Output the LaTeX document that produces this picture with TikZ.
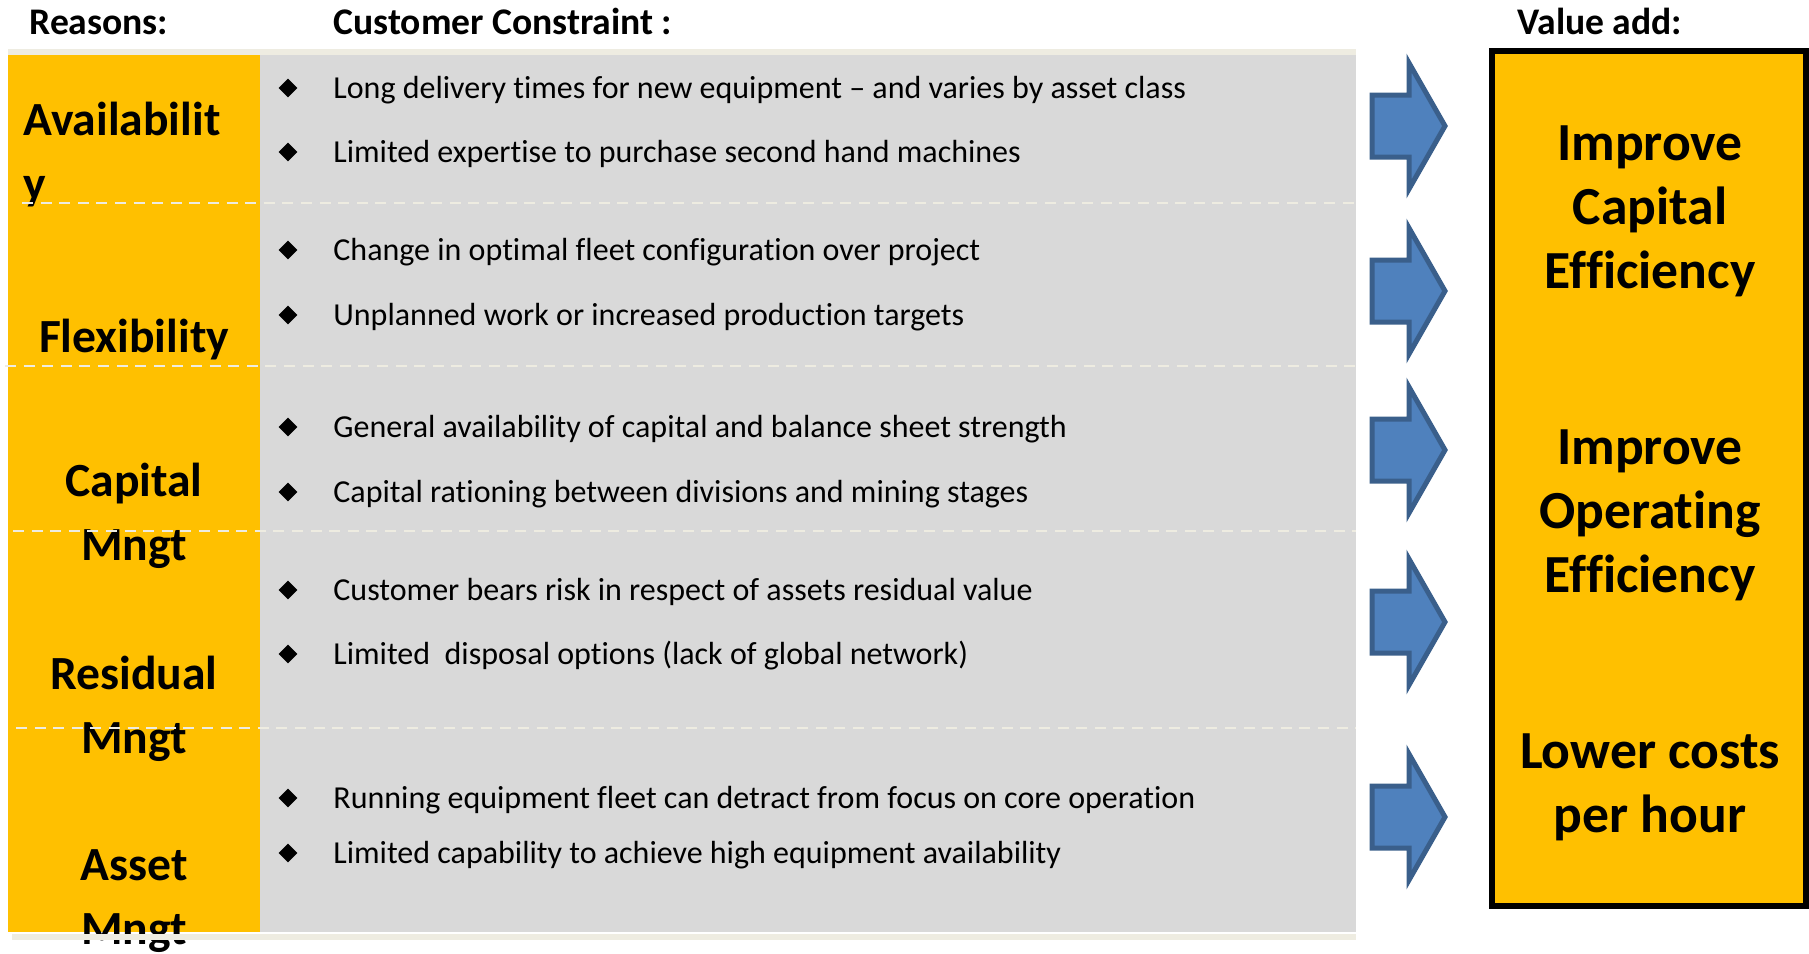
\documentclass[tikz,border=0pt]{standalone}
\usepackage{fontspec}
\setmainfont{Carlito}[Ligatures=CommonOff]
\usepackage{xcolor}
\usepackage{tikz}
\usetikzlibrary{shapes.geometric}

\definecolor{amber}{HTML}{FFC000}
\definecolor{panelgrey}{HTML}{D9D9D9}
\definecolor{rulebeige}{HTML}{EEECE1}
\definecolor{arrowfill}{HTML}{4F81BD}
\definecolor{arrowline}{HTML}{3A5F8B}

\begin{document}
\begin{tikzpicture}[x=0.5pt,y=-0.5pt,
        header/.style={anchor=base west,inner sep=0pt,font=\bfseries\fontsize{18.8}{22}\selectfont},
        bullet/.style={diamond,fill=black,inner sep=0pt,minimum size=9.5pt},
        item/.style={anchor=base west,inner sep=0pt,font=\fontsize{16}{19}\selectfont},
        reason/.style={anchor=base,inner sep=0pt,align=center,font=\bfseries\fontsize{23.8}{31.75}\selectfont},
        gain/.style={anchor=base,inner sep=0pt,align=center,font=\bfseries\fontsize{26.8}{32}\selectfont},
        divider/.style={rulebeige,line width=1.35pt,dash pattern=on 5.5pt off 3.8pt},
        blockarrow/.style={fill=arrowfill,draw=arrowline,line width=2.5pt,line join=miter}]
        \useasboundingbox (0,0) rectangle (1809,953);

        %% Panels
        \fill [amber] (8,55) rectangle (260,932);
        \fill [panelgrey] (260,55) rectangle (1356,932);
        \draw [fill=amber,line width=3pt] (1492,51) rectangle (1806,906);

        %% Headings
        \node [header] (reasons) at (29,34) {Reasons:};
        \node [header] (constraint) at (333,34) {Customer Constraint :};
        \node [header] (valueadd) at (1517,34) {Value add:};

        %% Constraints
        \foreach \y/\txt [count=\i] in {
                98/{Long delivery times for new equipment – and varies by asset class},
                162/{Limited expertise to purchase second hand machines},
                260/{Change in optimal fleet configuration over project},
                325/{Unplanned work or increased production targets},
                437/{General availability of capital and balance sheet strength},
                502/{Capital rationing between divisions and mining stages},
                600/{Customer bears risk in respect of assets residual value},
                664/{Limited\ \ disposal options (lack of global network)},
                808/{Running equipment fleet can detract from focus on core operation},
                863/{Limited capability to achieve high equipment availability}} {
            \node [bullet] (dot-\i) at (288,\y-10) {};
            \node [item] (item-\i) at (333,\y) {\txt};
        }

        %% Reasons (base = last line)
        \node [reason,anchor=base west,align=left] (availability) at (23,199) {Availabilit\\y};
        \node [reason] (flexibility) at (134,352) {Flexibility};
        \node [reason] (capital) at (134,560) {Capital\\Mngt};
        \node [reason] (residual) at (134,753) {Residual\\Mngt};
        \node [reason] (asset) at (134,944) {Asset\\Mngt};

        %% Value add
        \node [gain] (capeff) at (1650,288) {Improve\\Capital\\Efficiency};
        \node [gain] (opeff) at (1650,592) {Improve\\Operating\\Efficiency};
        \node [gain] (costs) at (1650,832) {Lower costs\\per hour};

        %% Arrows
        \foreach \y in {126,291,450,622,817}
            \draw [blockarrow] (1372,\y-31) -- (1409,\y-31) -- (1409,\y-63) -- (1445,\y)
                -- (1409,\y+63) -- (1409,\y+31) -- (1372,\y+31) -- cycle;

        %% Row rules
        \fill [rulebeige] (8,49) rectangle (1356,55);
        \fill [rulebeige] (12,934) rectangle (1356,940);
        \draw [divider] (22,203) -- (1360,203);
        \draw [divider] (5,366) -- (1356,366);
        \draw [divider] (13,531) -- (1356,531);
        \draw [divider] (16,728) -- (1356,728);
    \end{tikzpicture}
\end{document}
